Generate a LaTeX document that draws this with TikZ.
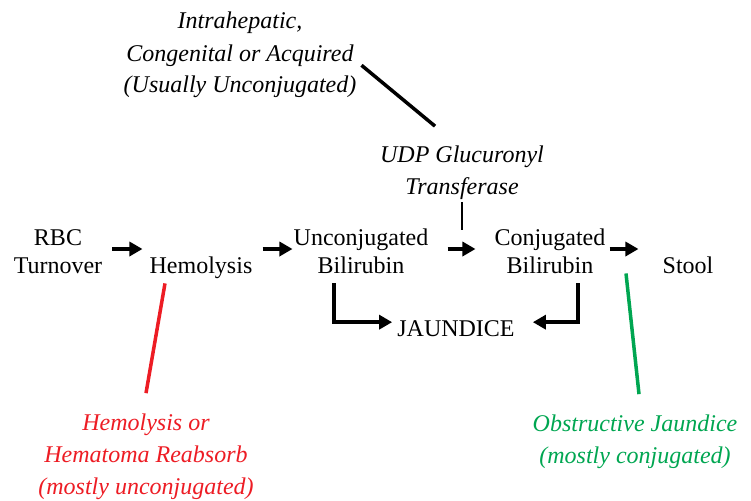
\documentclass[tikz,border=0pt]{standalone}
\usepackage{fontspec}
\setmainfont{Liberation Serif}
\usetikzlibrary{arrows.meta}
\definecolor{hemored}{RGB}{237,28,36}
\definecolor{obsgreen}{RGB}{0,166,81}
\begin{document}
\begin{tikzpicture}[x=1pt, y=-1pt, >={Triangle[length=13pt,width=14pt]},
    txt/.style={inner sep=0pt, anchor=base, align=center, font=\fontsize{24}{28}\selectfont},
    nota/.style={inner sep=0pt, anchor=base, align=center, font=\fontsize{24}{32}\selectfont\itshape},
    seta/.style={->, line width=3.5pt}]
    \useasboundingbox (0,0) rectangle (751,500);

    % Etapas
    \node[txt] (rbc) at (58,273) {RBC\\Turnover};
    \node[txt] (hemo) at (201,273) {Hemolysis};
    \node[txt] (uncon) at (361,273) {Unconjugated\\Bilirubin};
    \node[txt] (conj) at (550,273) {Conjugated\\Bilirubin};
    \node[txt] (stool) at (688,273) {Stool};
    \node[txt] (jaund) at (456,336) {JAUNDICE};

    % Notas
    \node[nota] (udp) at (462,194) {UDP Glucuronyl\\Transferase};
    \node[nota] (intra) at (240,93) {Intrahepatic,\\Congenital or Acquired\\(Usually Unconjugated)};
    \node[nota, text=hemored] (hemi) at (146,494) {Hemolysis or\\Hematoma Reabsorb\\(mostly unconjugated)};
    \node[nota, text=obsgreen] (obst) at (635,463) {Obstructive Jaundice\\(mostly conjugated)};

    % Setas da linha principal
    \draw[seta] ([xshift=10pt,yshift=24pt]rbc.base east) -- ([xshift=-7pt,yshift=24pt]rbc.base east -| hemo.west);
    \draw[seta] ([xshift=10pt,yshift=24pt]uncon.base west -| hemo.east) -- ([xshift=-1pt,yshift=24pt]uncon.base west);
    \draw[seta] ([xshift=19pt,yshift=24pt]uncon.base east) -- ([xshift=-19pt,yshift=24pt]conj.base west);
    \draw[seta] ([xshift=4pt,yshift=24pt]conj.base east) -- ([xshift=-24pt,yshift=24pt]conj.base east -| stool.west);

    % Setas para JAUNDICE
    \draw[seta] ([xshift=-27pt,yshift=-10pt]uncon.south) |- ([xshift=-5pt,yshift=6pt]jaund.west);
    \draw[seta] ([xshift=28pt,yshift=-10pt]conj.south) |- ([xshift=18pt,yshift=6pt]jaund.east);

    % UDP
    \draw[line width=1.5pt] ([yshift=-3pt]udp.south) -- ([yshift=-2pt]udp.south |- uncon.north);

    % Intrahepatico
    \draw[line width=3.5pt] ([xshift=5pt,yshift=-10pt]intra.east) -- ([xshift=-27pt,yshift=19pt]udp.north);

    % Hemolise
    \draw[hemored, line width=3.5pt] ([xshift=-36pt,yshift=-5pt]hemo.south) -- ([yshift=20pt]hemi.north);

    % Obstrutiva
    \draw[obsgreen, line width=3.5pt] ([xshift=-62pt]stool.south) -- ([xshift=4pt,yshift=20pt]obst.north);
\end{tikzpicture}
\end{document}
